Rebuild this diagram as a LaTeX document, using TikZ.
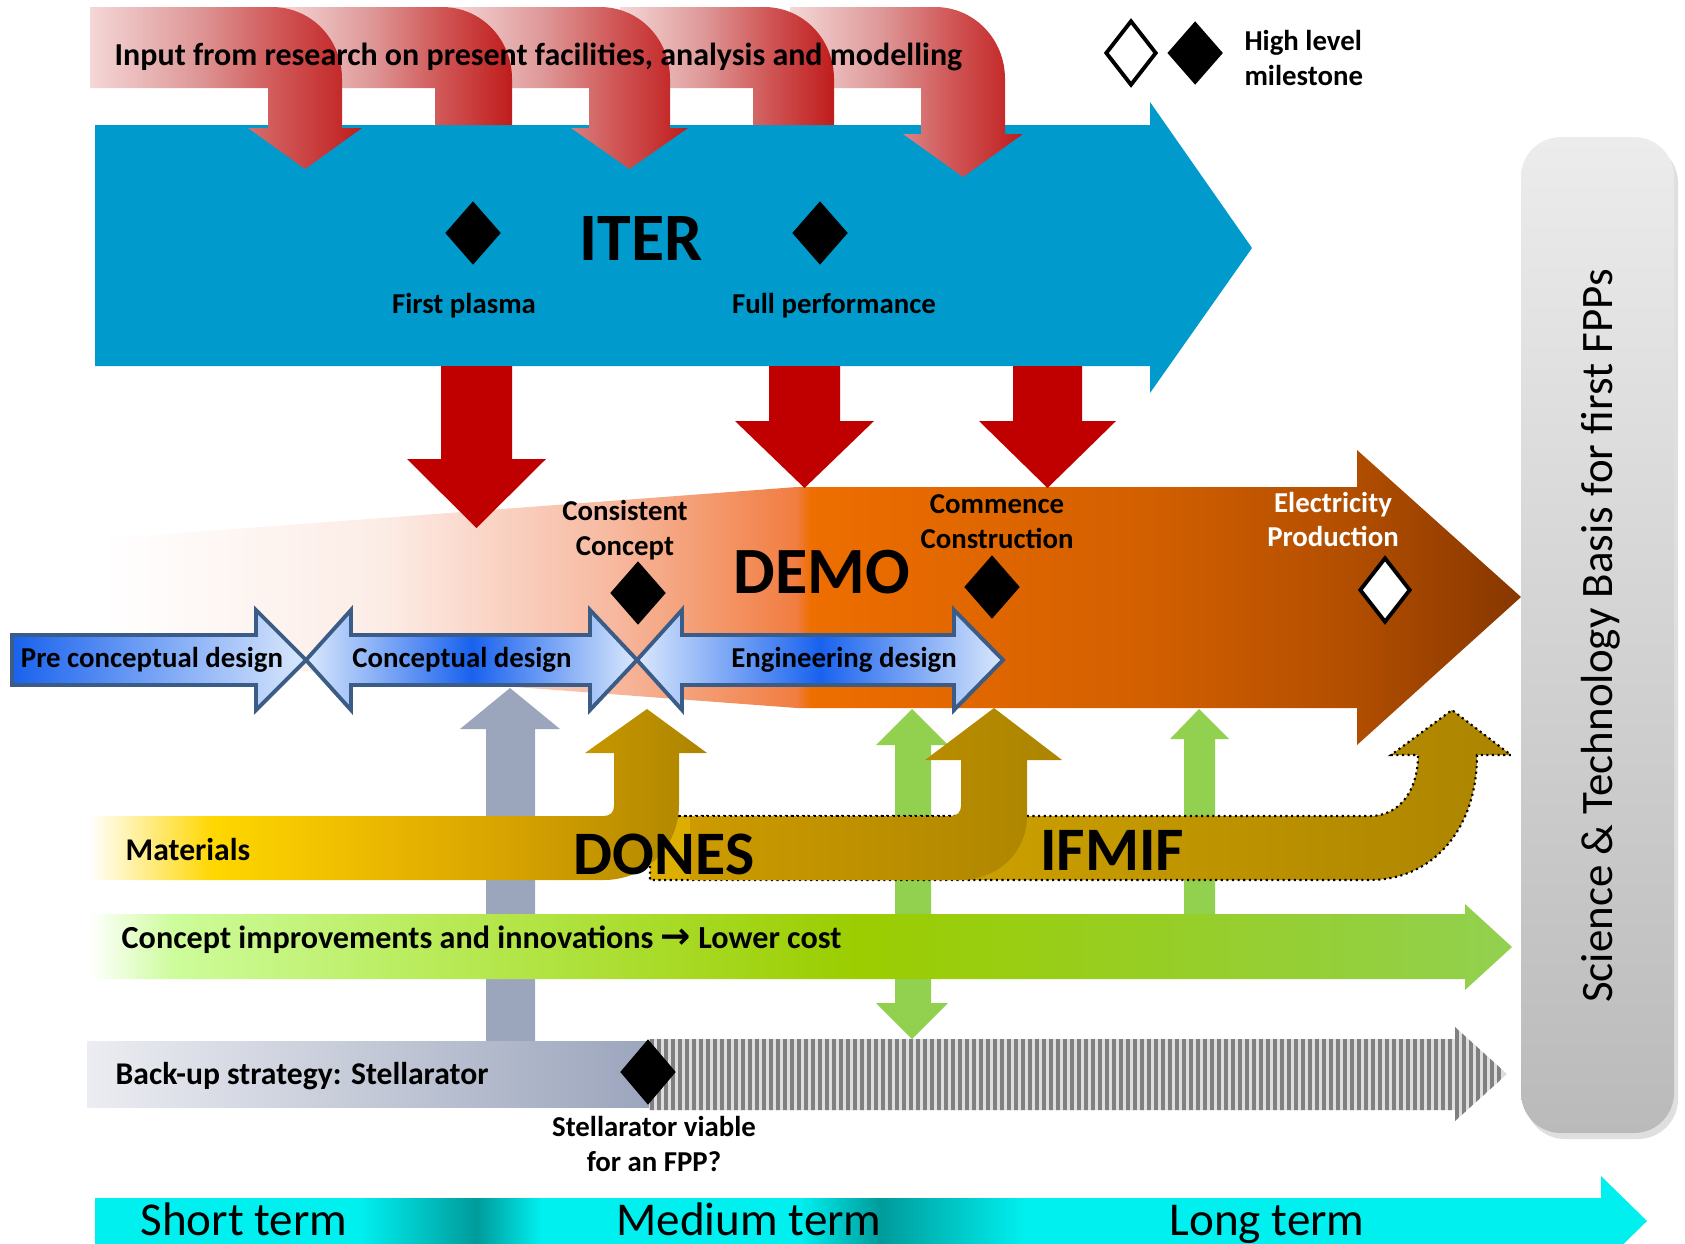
\documentclass[tikz,border=0pt]{standalone}
\usepackage{fontspec}
\setmainfont{Carlito}
\newfontfamily\arrowfont{DejaVu Sans}
\usetikzlibrary{positioning, shapes.geometric, shadows}

\definecolor{iterblue}{RGB}{0,155,204}
\definecolor{iterred}{RGB}{192,0,0}
\definecolor{inpale}{RGB}{244,215,215}
\definecolor{inmid}{RGB}{222,150,150}
\definecolor{inrose}{RGB}{208,85,85}
\definecolor{indark}{RGB}{192,28,28}
\definecolor{demopale}{RGB}{252,236,230}
\definecolor{demopink}{RGB}{247,185,160}
\definecolor{demosalmon}{RGB}{241,125,65}
\definecolor{demoorange}{RGB}{238,110,0}
\definecolor{demomid}{RGB}{210,95,0}
\definecolor{demorust}{RGB}{178,78,0}
\definecolor{demobrown}{RGB}{135,55,0}
\definecolor{dsgndark}{RGB}{25,98,238}
\definecolor{dsgnlight}{RGB}{218,232,252}
\definecolor{dsgnline}{RGB}{58,92,135}
\definecolor{matyellow}{RGB}{255,215,0}
\definecolor{matgold}{RGB}{232,180,0}
\definecolor{matochre}{RGB}{205,155,0}
\definecolor{matbrown}{RGB}{172,132,0}
\definecolor{ifmifgold}{RGB}{222,176,0}
\definecolor{newpale}{RGB}{205,252,155}
\definecolor{newlight}{RGB}{185,235,90}
\definecolor{newlime}{RGB}{155,205,0}
\definecolor{newgreen}{RGB}{146,208,80}
\definecolor{stelgrey}{RGB}{155,165,188}
\definecolor{stelpale}{RGB}{236,237,242}
\definecolor{hatchgrey}{RGB}{128,128,128}
\definecolor{hatchpale}{RGB}{222,222,222}
\definecolor{termcyan}{RGB}{0,240,240}
\definecolor{termteal}{RGB}{0,155,155}
\definecolor{boxtop}{RGB}{236,236,236}
\definecolor{boxbottom}{RGB}{186,186,186}

\pgfdeclarehorizontalshading{inputshade}{100bp}{color(0bp)=(inpale); color(25bp)=(inpale); color(45bp)=(inmid); color(60bp)=(inrose); color(75bp)=(indark); color(100bp)=(indark)}
\pgfdeclarehorizontalshading{demoshade}{100bp}{color(0bp)=(white); color(25bp)=(white); color(35bp)=(demopale); color(43bp)=(demopink); color(49.5bp)=(demosalmon); color(50bp)=(demoorange); color(62bp)=(demomid); color(69bp)=(demorust); color(75bp)=(demobrown); color(100bp)=(demobrown)}
\pgfdeclarehorizontalshading{donesshade}{100bp}{color(0bp)=(white); color(25bp)=(white); color(35bp)=(matyellow); color(50bp)=(matgold); color(63bp)=(matochre); color(75bp)=(matbrown); color(100bp)=(matbrown)}
\pgfdeclarehorizontalshading{conceptshade}{100bp}{color(0bp)=(white); color(25bp)=(white); color(28bp)=(newpale); color(37bp)=(newlight); color(52bp)=(newlime); color(75bp)=(newgreen); color(100bp)=(newgreen)}
\pgfdeclarehorizontalshading{termshade}{100bp}{color(0bp)=(termcyan); color(33.5bp)=(termcyan); color(37.3bp)=(termteal); color(39.4bp)=(termcyan); color(47.7bp)=(termcyan); color(50.3bp)=(termteal); color(55bp)=(termcyan); color(100bp)=(termcyan)}

\tikzset{
  lbl/.style={font=\bfseries\fontsize{8.2}{9.8}\selectfont, align=center, inner sep=0pt},
  bandtext/.style={font=\bfseries\fontsize{9}{10.5}\selectfont, anchor=west, inner sep=0pt},
  bigtext/.style={font=\bfseries\fontsize{17.6}{20}\selectfont, inner sep=0pt},
  milestone/.style={diamond, fill=black, inner sep=0pt, minimum width=5.6mm, minimum height=6.4mm},
  openmilestone/.style={milestone, fill=white, draw=black, line width=1.1pt, minimum width=5.1mm, minimum height=6.5mm},
  dsgnarrow/.style={draw=dsgnline, line width=1.1pt, line join=miter},
  dsgnboth/.style={dsgnarrow, left color=dsgnlight, right color=dsgnlight, middle color=dsgndark},
  ifmifedge/.style={draw=black, densely dotted, line width=0.6pt},
  termtext/.style={font=\fontsize{13.4}{15}\selectfont, anchor=base, inner sep=0pt},
}

\begin{document}
\begin{tikzpicture}[x=0.1mm, y=-0.1mm]
    \useasboundingbox (0,0) rectangle (1685,1243);
    \clip (0,0) rectangle (1685,1243);

    \fill[iterblue] (95,125) -- (1150,125) -- (1150,102) -- (1252,248) -- (1150,393)
        -- (1150,366) -- (95,366) -- cycle;
    \foreach \s/\l/\r/\hb/\t/\e in {790/921/1005/134/177/18, 620/753/834/125/125/0,
        450/589/670/128/169/18, 280/435/512/125/125/0, 90/268/342/128/169/20}
      \shade[shading=inputshade] (\s,7) -- (\r-70,7) .. controls (\r-31,7) and (\r,39) .. (\r,79)
          -- (\r,\hb) -- (\r+\e,\hb) -- ({(\l+\r)/2},\t) -- (\l-\e,\hb) -- (\l,\hb)
          -- (\l,88) -- (\s,88) -- cycle;
    \node[bandtext, font=\bfseries\fontsize{9.1}{10.5}\selectfont] (input) at (114,57)
        {Input from research on present facilities, analysis and modelling};

    \node[font=\bfseries\fontsize{19.3}{22}\selectfont, inner sep=0pt] (iter) at (641,239) {ITER};
    \node[milestone] (plasma) at (473,233) {};
    \node[milestone] (fullperf) at (820,233) {};
    \node[lbl, below=2.7mm of plasma, xshift=-0.9mm] (plasmalbl) {First plasma};
    \node[lbl, below=2.7mm of fullperf, xshift=1.4mm] (fullperflbl) {Full performance};

    \node[openmilestone] (legopen) at (1131,53) {};
    \node[milestone, right=0.8mm of legopen] (legfull) {};
    \node[lbl, align=left, right=2mm of legfull, yshift=-0.5mm] (legtext) {High level\\milestone};

    \shade[shading=demoshade] (100,539) -- (797,487) -- (1357,487) -- (1357,450) -- (1521,597)
        -- (1357,745) -- (1357,708) -- (797,708) -- (100,656) -- cycle;
    \foreach \l/\r/\hb/\t in {441/512/459/528, 769/840/421/488, 1013/1082/421/488}
      \fill[iterred] (\l,366) -- (\r,366) -- (\r,\hb) -- (\r+34,\hb) -- ({(\l+\r)/2},\t)
          -- (\l-34,\hb) -- (\l,\hb) -- cycle;

    \fill[stelgrey] (486,1041) -- (486,729) -- (460,729) -- (510,688) -- (560,729) -- (535,729)
        -- (535,1041) -- cycle;
    \fill[newgreen] (895,745) -- (876,745) -- (912,709) -- (948,745) -- (931,745) -- (931,1003)
        -- (948,1003) -- (912,1039) -- (876,1003) -- (895,1003) -- cycle;
    \fill[newgreen] (1184,914) -- (1184,739) -- (1170,739) -- (1199,709) -- (1229,739)
        -- (1215,739) -- (1215,914) -- cycle;

    \path[dsgnarrow, left color=dsgndark, right color=dsgnlight] (12,635) -- (256,635) -- (256,610)
        -- (306,660) -- (256,710) -- (256,685) -- (12,685) -- cycle;
    \path[dsgnboth] (306,660) -- (351,610) -- (351,635) -- (590,635) -- (590,610) -- (637,660)
        -- (590,710) -- (590,685) -- (351,685) -- (351,710) -- cycle;
    \path[dsgnboth] (637,660) -- (682,610) -- (682,635) -- (954,635) -- (954,610) -- (1003,660)
        -- (954,710) -- (954,685) -- (682,685) -- (682,710) -- cycle;
    \node[lbl] (precon) at (152,660) {Pre conceptual design};
    \node[lbl] (concdes) at (462,660) {Conceptual design};
    \node[lbl] (engdes) at (844,660) {Engineering design};

    \node[font=\bfseries\fontsize{18.8}{22}\selectfont, inner sep=0pt] (demo) at (822,572) {DEMO};
    \node[milestone] (consist) at (638,593) {};
    \node[milestone] (commence) at (992,587) {};
    \node[openmilestone] (elec) at (1385,590) {};
    \node[lbl, above=0mm of consist, xshift=-1.3mm] (consistlbl) {Consistent\\Concept};
    \node[lbl, above=0.5mm of commence, xshift=0.5mm] (commencelbl) {Commence\\Construction};
    \node[lbl, text=white, above=0.8mm of elec, xshift=-5.2mm] (eleclbl) {Electricity\\Production};

    \path[ifmifedge, left color=ifmifgold, right color=matbrown] (650,816) -- (1370,816)
        .. controls (1400,816) and (1418,790) .. (1418,755) -- (1391,755) -- (1452,710) -- (1511,755)
        -- (1477,755) .. controls (1477,830) and (1432,880) .. (1370,880) -- (650,880) -- cycle;
    \shade[left color=matochre, right color=matbrown] (690,816) -- (951,816)
        .. controls (957,816) and (961,812) .. (961,806) -- (961,760) -- (925,760) -- (994,708)
        -- (1062,760) -- (1027,760) -- (1027,816) .. controls (1027,852) and (998,880) .. (960,880)
        -- (690,880) -- cycle;
    \draw[ifmifedge] (679,816) -- (953,816);
    \shade[shading=donesshade] (89,816) -- (604,816) .. controls (610,816) and (614,812) .. (614,806)
        -- (614,753) -- (585,753) -- (647,709) -- (707,753) -- (679,753) -- (679,805)
        .. controls (679,846) and (646,880) .. (604,880) -- (89,880) -- cycle;
    \node[bandtext] (materials) at (125,850) {Materials};
    \node[bigtext] (dones) at (664,854) {DONES};
    \node[bigtext] (ifmif) at (1112,850) {IFMIF};

    \shade[shading=conceptshade] (89,914) -- (1465,914) -- (1465,904) -- (1512,947) -- (1465,990)
        -- (1465,979) -- (89,979) -- cycle;
    \node[bandtext, font=\bfseries\fontsize{9.15}{10.5}\selectfont] (concept) at (121,940)
        {Concept improvements and innovations {\arrowfont\fontsize{10.3}{10.5}\selectfont →} Lower cost};

    \shade[left color=stelpale, right color=stelgrey] (87,1041) rectangle (650,1107);
    \begin{scope}
      \clip (649,1039) -- (1455,1039) -- (1455,1027) -- (1507,1074) -- (1455,1121) -- (1455,1110)
          -- (649,1110) -- cycle;
      \fill[hatchpale] (640,1020) rectangle (1510,1125);
      \foreach \x in {652,659,...,1505}
        \draw[hatchgrey, line width=1pt] (\x,1020) -- (\x,1125);
    \end{scope}
    \node[milestone, minimum height=6.6mm] (viable) at (648,1072) {};
    \node[bandtext] (backup) at (115,1076) {Back-up strategy: Stellarator};
    \node[lbl, below=1mm of viable, xshift=0.6mm] (viablelbl) {Stellarator viable\\for an FPP?};

    \shade[top color=boxtop, bottom color=boxbottom, rounded corners=4mm,
        drop shadow={opacity=0.25, shadow xshift=0.4mm, shadow yshift=-0.6mm}]
        (1521,137) rectangle (1674,1133);
    \node[rotate=90, font=\fontsize{12.8}{15}\selectfont, inner sep=0pt] (science) at (1601,636)
        {Science \& Technology Basis for first FPPs};

    \shade[shading=termshade] (95,1198) -- (1601,1198) -- (1601,1176) -- (1647,1221) -- (1601,1266)
        -- (1601,1244) -- (95,1244) -- cycle;
    \node[termtext] (shortterm) at (244,1235) {Short term};
    \node[termtext] (mediumterm) at (749,1235) {Medium term};
    \node[termtext] (longterm) at (1267,1235) {Long term};
\end{tikzpicture}
\end{document}
